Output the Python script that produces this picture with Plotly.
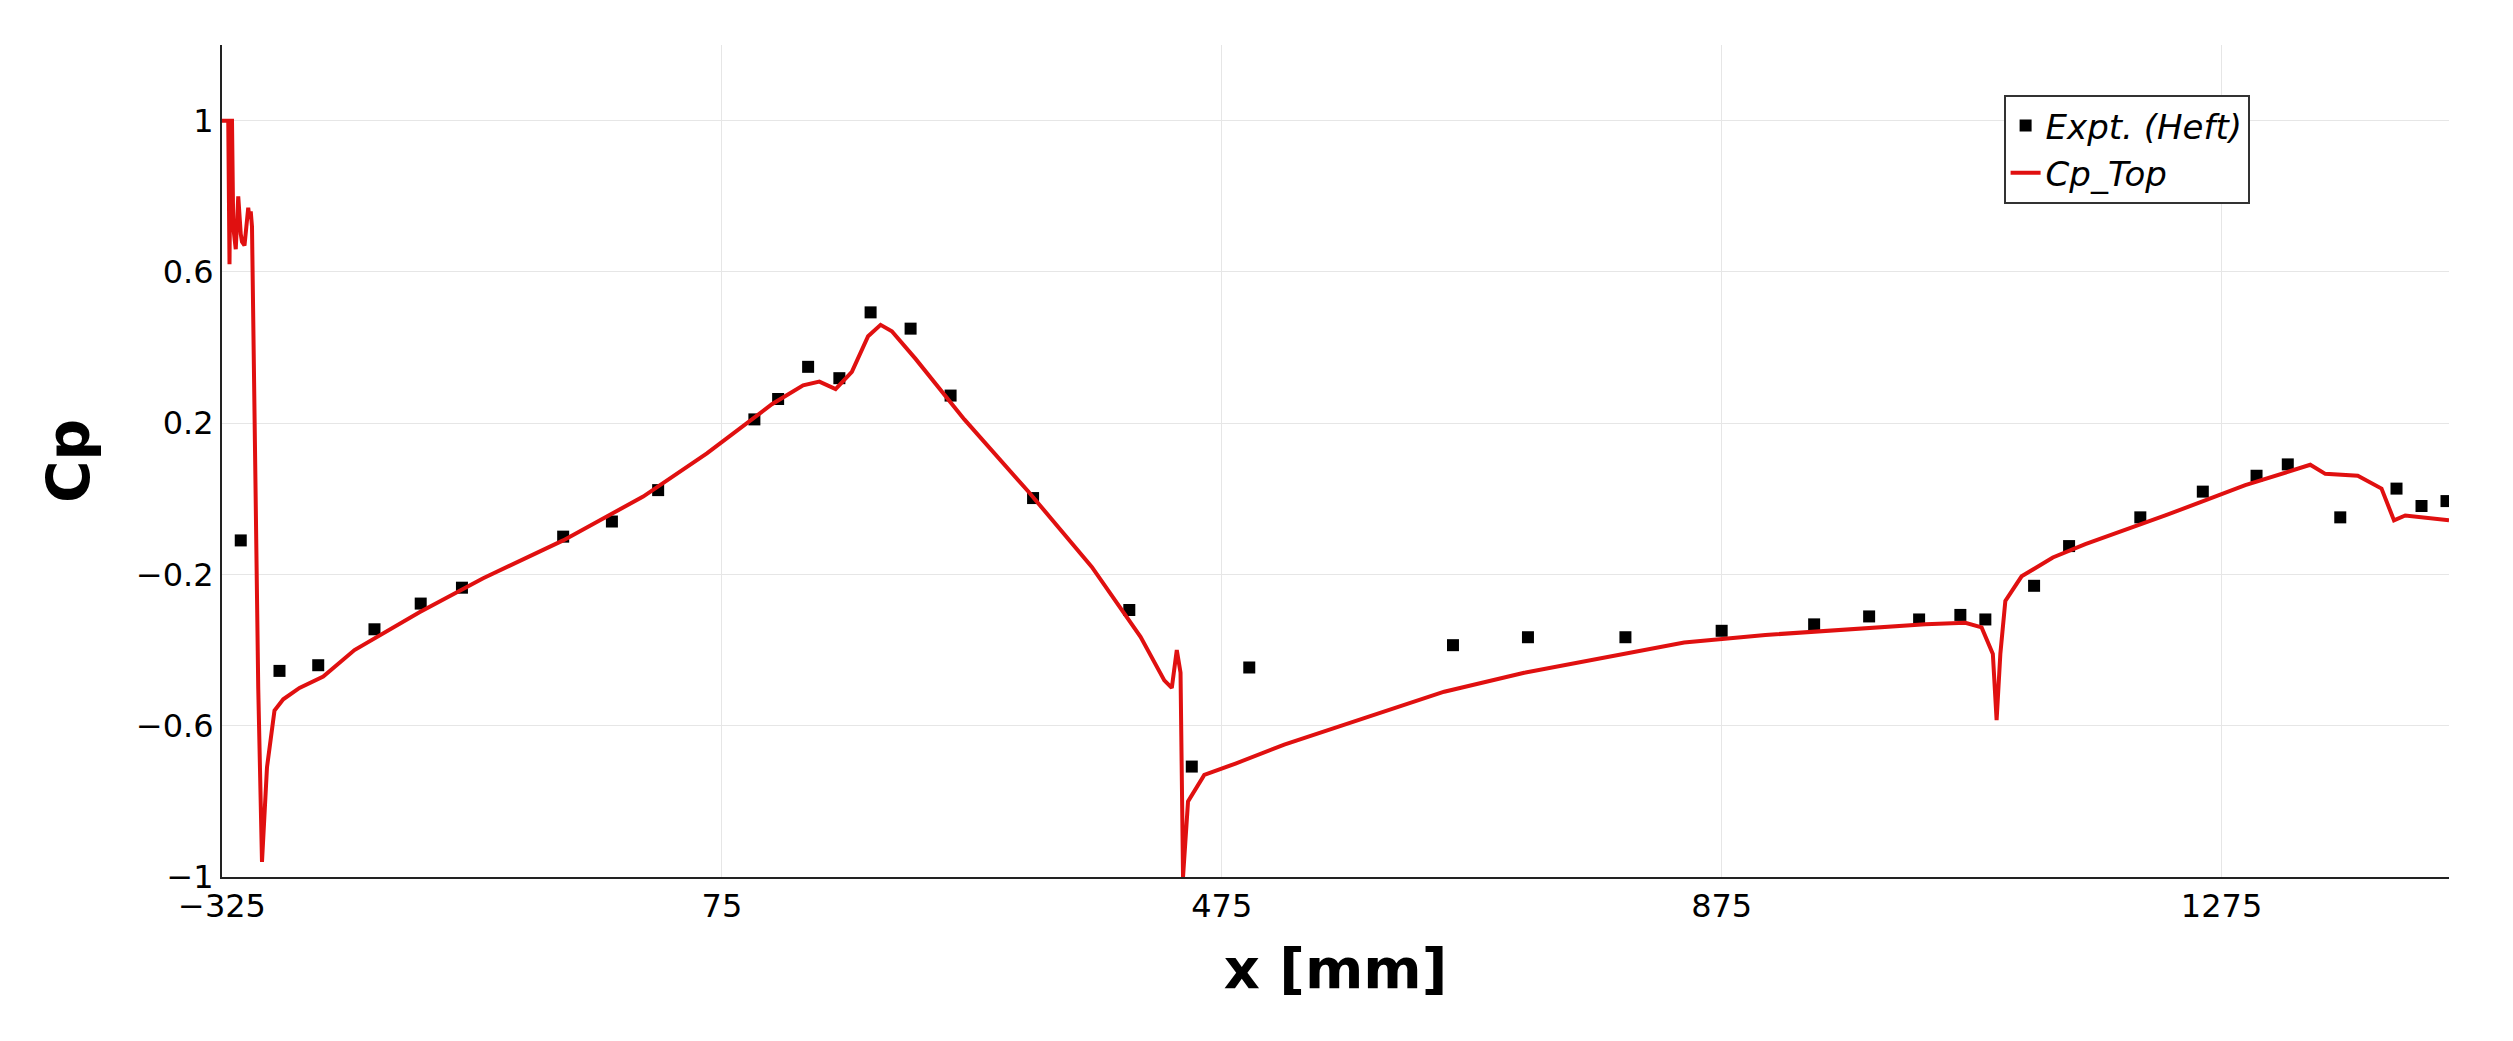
import plotly.graph_objects as go

# experimental points (Heft)
expt_x = [-310, -279, -248, -203, -166, -133, -52, -13, 24, 101, 120, 144, 169, 194, 226, 258,
          324, 401, 451, 497, 660, 720, 798, 875, 949, 993, 1033, 1066, 1086, 1125, 1153, 1210,
          1260, 1303, 1328, 1370, 1415, 1435, 1455]
expt_cp = [-0.11, -0.455, -0.44, -0.345, -0.277, -0.235, -0.10, -0.06, 0.023, 0.21, 0.264, 0.349,
           0.319, 0.493, 0.45, 0.273, 0.002, -0.294, -0.708, -0.446, -0.387, -0.366, -0.366,
           -0.349, -0.332, -0.311, -0.319, -0.307, -0.319, -0.23, -0.125, -0.049, 0.019, 0.061,
           0.091, -0.049, 0.027, -0.019, -0.006]

# computed top surface Cp
top_x = [-325, -322, -320, -319, -318, -317, -316, -314, -312, -310, -309, -307, -305, -304, -303,
         -302, -301, -296, -293, -289, -283, -276, -263, -244, -219, -167, -116, -52, 12, 63, 115,
         140, 153, 166, 179, 192, 202, 211, 230, 269, 320, 371, 410, 429, 435, 439, 442, 444, 448,
         461, 486, 525, 589, 653, 717, 781, 845, 910, 974, 1038, 1070, 1083, 1092, 1095, 1098,
         1102, 1115, 1140, 1166, 1230, 1294, 1346, 1358, 1384, 1403, 1413, 1422, 1457]
top_cp = [1.0, 1.0, 1.0, 0.62, 1.0, 1.0, 0.72, 0.66, 0.8, 0.7, 0.68, 0.67, 0.75, 0.77, 0.74,
          0.76, 0.72, -0.5, -0.96, -0.71, -0.56, -0.53, -0.50, -0.47, -0.40, -0.30, -0.21, -0.11,
          0.006, 0.12, 0.25, 0.30, 0.31, 0.29, 0.336, 0.43, 0.46, 0.443, 0.37, 0.21, 0.02, -0.18,
          -0.365, -0.48, -0.50, -0.40, -0.46, -1.0, -0.80, -0.73, -0.70, -0.65, -0.58, -0.51,
          -0.46, -0.42, -0.38, -0.36, -0.345, -0.332, -0.328, -0.34, -0.41, -0.585, -0.41, -0.27,
          -0.205, -0.155, -0.12, -0.044, 0.036, 0.09, 0.066, 0.061, 0.027, -0.057, -0.044, -0.057]

x_ticks = [-325, 75, 475, 875, 1275]
y_ticks = [-1, -0.6, -0.2, 0.2, 0.6, 1]

fig = go.Figure()
fig.add_trace(go.Scatter(x=expt_x, y=expt_cp, mode="markers", name="<i>Expt. (Heft)</i>",
                         marker=dict(symbol="square", size=12, color="black")))
fig.add_trace(go.Scatter(x=top_x, y=top_cp, mode="lines", name="<i>Cp_Top</i>",
                         line=dict(color="#e01010", width=4)))

axis_common = dict(showline=True, linecolor="#222", linewidth=2, gridcolor="#e6e6e6",
                   zeroline=False, ticks="", tickfont=dict(size=32, color="black"))
fig.update_layout(
    width=2513, height=1041,
    plot_bgcolor="white", paper_bgcolor="white",
    font=dict(family="DejaVu Sans", color="black"),
    margin=dict(l=214, r=72, t=37, b=172),
    xaxis=dict(range=[-325, 1457], tickvals=x_ticks, ticktext=["\u2212325", "75", "475", "875", "1275"],
               title=dict(text="<b>x [mm]</b>", font=dict(size=56), standoff=24), **axis_common),
    yaxis=dict(range=[-1, 1.2], tickvals=y_ticks,
               ticktext=["\u22121", "\u22120.6", "\u22120.2", "0.2", "0.6", "1"],
               title=dict(text="<b>Cp</b>", font=dict(size=58), standoff=28), **axis_common),
    legend=dict(x=0.80, y=0.94, xanchor="left", yanchor="top", bgcolor="white",
                bordercolor="#333", borderwidth=2,
                font=dict(size=34, family="DejaVu Sans"), itemwidth=30, tracegroupgap=0),
)

fig.write_html("out.html")
